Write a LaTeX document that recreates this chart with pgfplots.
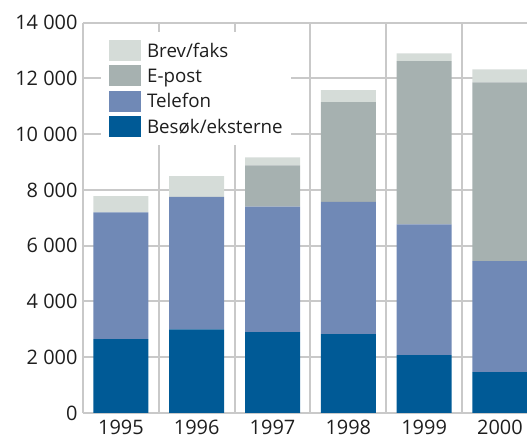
\documentclass[border=0pt]{standalone}
\usepackage{fontspec}
\setmainfont{Open Sans}
\usepackage{pgfplots}
\pgfplotsset{compat=1.18}
\definecolor{besok}{HTML}{005A96}
\definecolor{telefon}{HTML}{7089B6}
\definecolor{epost}{HTML}{A6B1B0}
\definecolor{brev}{HTML}{D5DCD8}
\definecolor{gridgray}{HTML}{C9C9C9}
\definecolor{txt}{HTML}{1E1E1E}
\begin{document}
\begin{tikzpicture}
\begin{axis}[
  scale only axis, width=444bp, height=390.3bp,
  xmin=-0.5, xmax=5.357, ymin=0, ymax=14000,
  ybar stacked, bar width=0.7256,
  xtick={0,1,2,3,4,5}, xticklabels={1995,1996,1997,1998,1999,2000},
  ytick={0,2000,...,14000},
  scaled y ticks=false,
  ymajorgrids,
  extra x ticks={-0.5,0.5,1.5,2.5,3.5,4.5}, extra x tick labels={},
  extra x tick style={grid=major},
  grid style={draw=gridgray, line width=2bp},
  axis line style={draw=none},
  major tick length=0pt,
  tick label style={font=\fontsize{20}{22}\selectfont, text=txt},
  yticklabel style={xshift=-2bp},
  xticklabel style={yshift=-3.6bp},
  /pgf/number format/assume math mode=true,
  /pgf/number format/1000 sep={\ },
  legend reversed,
  legend cell align=left,
  legend style={at={(rel axis cs:0,1)}, anchor=north west, xshift=18bp, yshift=-9.3bp,
    draw=none, fill=white, inner sep=8bp, row sep=4.5bp, column sep=5.9bp,
    font=\fontsize{18.8}{21}\selectfont, text=txt,
    nodes={inner sep=0bp, text height=17.2bp, text depth=3.6bp}},
]
\addplot[fill=besok, draw=none, legend image code/.code={\fill[besok] (0bp,-10.4bp) rectangle (32bp,10.4bp);}]
  coordinates {(0,2650) (1,3000) (2,2900) (3,2830) (4,2080) (5,1470)};
\addplot[fill=telefon, draw=none, legend image code/.code={\fill[telefon] (0bp,-10.4bp) rectangle (32bp,10.4bp);}]
  coordinates {(0,4550) (1,4750) (2,4500) (3,4740) (4,4690) (5,3980)};
\addplot[fill=epost, draw=none, legend image code/.code={\fill[epost] (0bp,-10.4bp) rectangle (32bp,10.4bp);}]
  coordinates {(0,0) (1,0) (2,1480) (3,3580) (4,5850) (5,6410)};
\addplot[fill=brev, draw=none, legend image code/.code={\fill[brev] (0bp,-10.4bp) rectangle (32bp,10.4bp);}]
  coordinates {(0,580) (1,750) (2,290) (3,430) (4,280) (5,470)};
\legend{Besøk/eksterne, Telefon, E-post, Brev/faks}
\end{axis}
\pgfresetboundingbox
\path[use as bounding box] ([shift={(-83bp,-26bp)}]current axis.south west) rectangle ([shift={(0bp,22.7bp)}]current axis.north east);
\end{tikzpicture}
\end{document}
